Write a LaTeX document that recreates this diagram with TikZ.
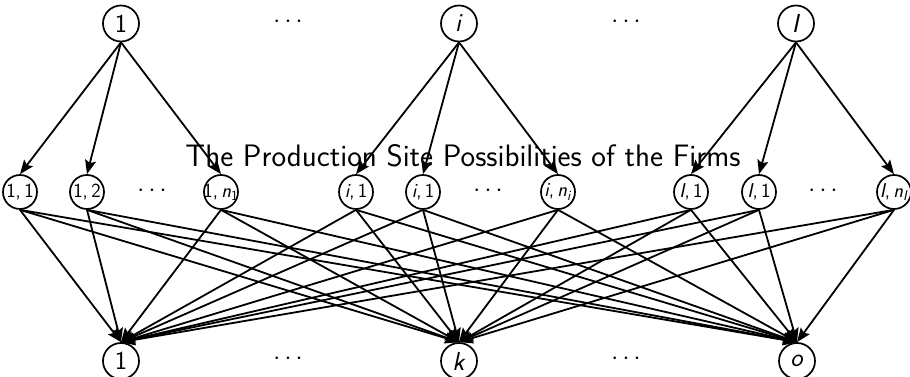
\documentclass[tikz,border=0pt]{standalone}
\usepackage{fontspec}
\usetikzlibrary{arrows.meta}
\begin{document}
\begin{tikzpicture}[x=1pt,y=1pt,
  big/.style={circle, draw, line width=1.7pt, minimum size=36pt, inner sep=0pt,
    font=\sffamily\fontsize{26}{30}\selectfont},
  small/.style={circle, draw, line width=1.7pt, minimum size=34pt, inner sep=0pt},
  slab/.style={font=\sffamily\fontsize{20}{23}\selectfont, inner sep=0pt},
  dotsnode/.style={font=\fontsize{24}{28}\selectfont, inner sep=0pt},
  title/.style={font=\sffamily\fontsize{31}{36}\selectfont, inner sep=0pt, anchor=base},
  arr/.style={-{Stealth[length=14pt,width=11pt,inset=2.5pt]}, line width=1.8pt},
]
\useasboundingbox (0,0) rectangle (910,377);

% middle title
\node[title] (midtitle) at (463,210) {The Production Site Possibilities of the Firms};

% top row
\node[big] (t1) at (121,353.5) {1};
\node[big] (t2) at (459,353.5) {\textsl{i}};
\node[big] (t3) at (796,353.5) {\textsl{I}};
\node[dotsnode] (td1) at (288,355) {$\cdots$};
\node[dotsnode] (td2) at (626,355) {$\cdots$};

% middle row
\node[small, label={[slab]center:{1,\,1}}] (m1) at (20,185) {};
\node[small, label={[slab]center:{1,\,2}}] (m2) at (87,185) {};
\node[small, label={[slab]center:{1,\,\textsl{n}\textsubscript{1}}}] (m3) at (221,185) {};
\node[small, label={[slab]center:{\textsl{i},\,1}}] (m4) at (356,185) {};
\node[small, label={[slab]center:{\textsl{i},\,1}}] (m5) at (423,185) {};
\node[small, label={[slab]center:{\textsl{i},\,\textsl{n}\textsubscript{\textsl{i}}}}] (m6) at (558,185) {};
\node[small, label={[slab]center:{\textsl{I},\,1}}] (m7) at (691,185) {};
\node[small, label={[slab]center:{\textsl{I},\,1}}] (m8) at (759,185) {};
\node[small, label={[slab]center:{\textsl{I},\,\textsl{n}\textsubscript{\textsl{I}}}}] (m9) at (894,185) {};
\node[dotsnode] (md1) at (152,186) {$\cdots$};
\node[dotsnode] (md2) at (488,186) {$\cdots$};
\node[dotsnode] (md3) at (823,186) {$\cdots$};

% bottom row
\node[big] (b1) at (121,16) {1};
\node[big] (b2) at (459,16) {\textsl{k}};
\node[big] (b3) at (797,16) {\textsl{o}};
\node[dotsnode] (bd1) at (288,18) {$\cdots$};
\node[dotsnode] (bd2) at (626,18) {$\cdots$};

% top to middle
\foreach \m in {m1,m2,m3} \draw[arr] (t1.south) -- (\m.north);
\foreach \m in {m4,m5,m6} \draw[arr] (t2.south) -- (\m.north);
\foreach \m in {m7,m8,m9} \draw[arr] (t3.south) -- (\m.north);

% middle to bottom
\foreach \m in {m1,m2,m3,m4,m5,m6,m7,m8,m9}
  \foreach \b in {b1,b2,b3}
    \draw[arr] (\m.south) -- (\b.north);
\end{tikzpicture}
\end{document}
